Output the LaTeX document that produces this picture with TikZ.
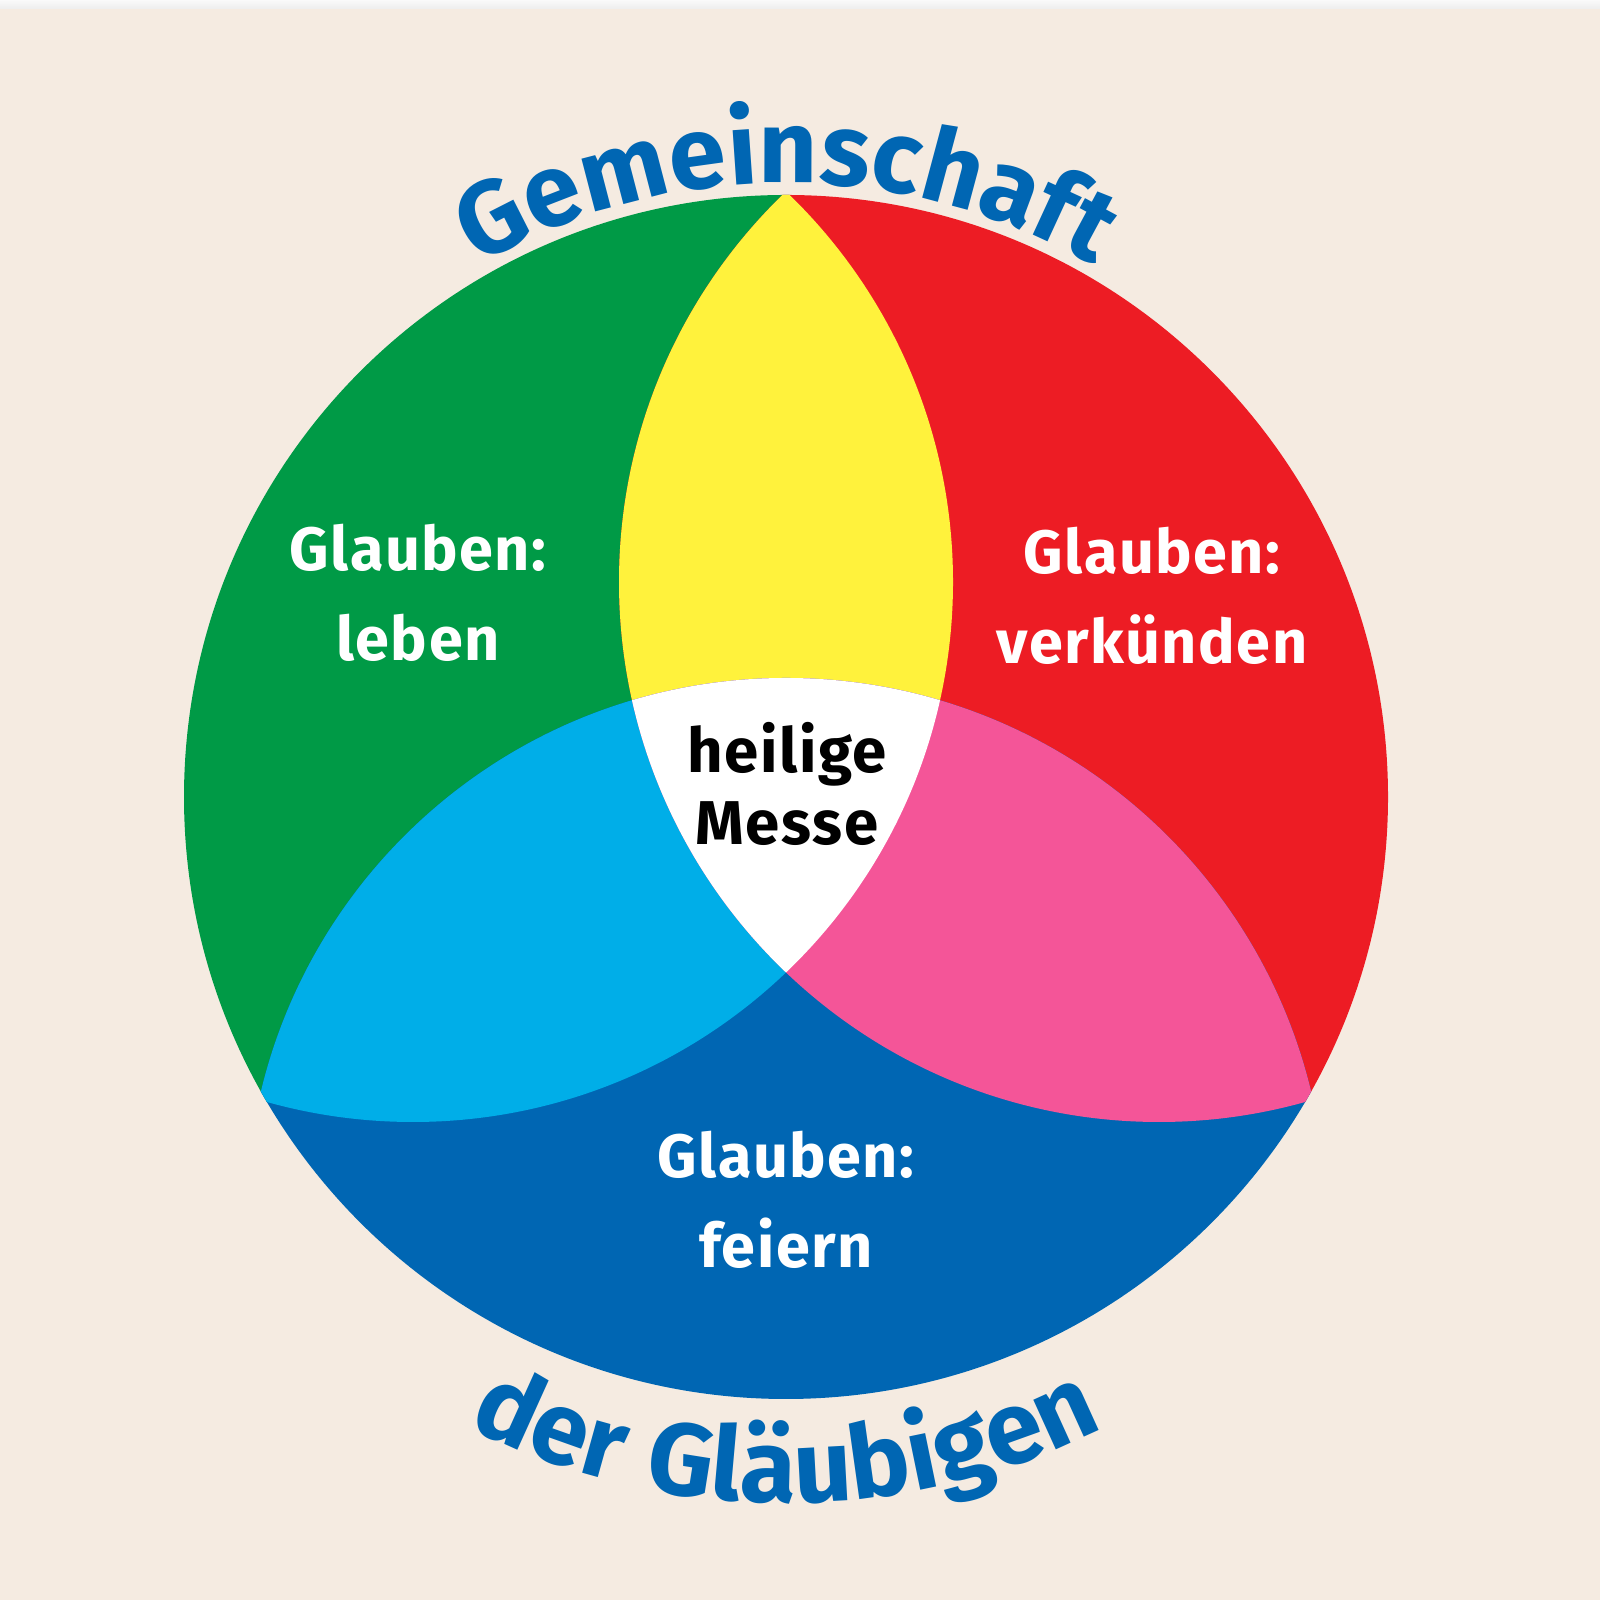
\documentclass[tikz,border=0pt]{standalone}
\usepackage{fontspec}
\setmainfont{Fira Sans}
\newfontfamily\labelfont[LetterSpace=2.5]{Fira Sans}
\newfontfamily\randfont[LetterSpace=3]{Fira Sans}
\usetikzlibrary{decorations.text}

\definecolor{bgbeige}{HTML}{F5EBE1}
\definecolor{glgreen}{HTML}{009A46}
\definecolor{glred}{HTML}{ED1C24}
\definecolor{glblue}{HTML}{0066B3}
\definecolor{glyellow}{HTML}{FFF23C}
\definecolor{glcyan}{HTML}{00AEE8}
\definecolor{glpink}{HTML}{F45598}

\newcommand{\SmallR}{5.4}
\newcommand{\TitleFont}{\randfont\bfseries\fontsize{29.2}{35}\selectfont}
\newcommand{\Overlap}[3]%
% clip circle, fill circle, colour
{ \begin{scope}
    \clip (#1) circle (\SmallR);
    \fill[#3] (#2) circle (\SmallR);
  \end{scope}
}

\begin{document}
\begin{tikzpicture}
[   label/.style={text=white, font=\labelfont\bfseries\fontsize{17.4}{25.5}\selectfont, align=center},
    centre/.style={label, text=black, font=\labelfont\bfseries\fontsize{17.6}{20.5}\selectfont},
    title/.style={decorate, decoration={text along path, text align=center,
        text color=glblue, text={|\TitleFont|#1}}}
]
    \useasboundingbox (0,0) rectangle (16,16);
    \fill[bgbeige] (0,0) rectangle (16,16);
    \shade[top color=gray!4, bottom color=gray!14] (0,15.91) rectangle (16,16);

    % Mittelpunkte
    \coordinate (O) at (7.86,8.03);
    \coordinate (G) at (4.13,10.18);
    \coordinate (R) at (11.59,10.18);
    \coordinate (B) at (7.86,3.82);

    % drei Kreise im grossen Kreis
    \begin{scope}
        \clip (O) circle (6.02);
        \fill[glgreen] (G) circle (\SmallR);
        \fill[glred] (R) circle (\SmallR);
        \fill[glblue] (B) circle (\SmallR);
        \Overlap{G}{R}{glyellow}
        \Overlap{G}{B}{glcyan}
        \Overlap{R}{B}{glpink}
        \begin{scope}
            \clip (G) circle (\SmallR);
            \Overlap{R}{B}{white}
        \end{scope}
    \end{scope}

    \node[label] (leben) at (4.18,10.07) {Glauben:\\leben};
    \node[label] (verkuenden) at (11.52,10.04) {Glauben:\\verkünden};
    \node[label] (feiern) at (7.86,4.00) {Glauben:\\feiern};
    \node[centre] (messe) at (7.87,8.16) {heilige\\Messe};

    % Schrift am Rand
    \path[title=Gemeinschaft] ([shift={(150:6.14)}]O)
        arc[start angle=150, end angle=30, radius=6.14];
    \path[title=der Gläubigen] ([shift={(215:7.06)}]O)
        arc[start angle=215, end angle=325, radius=7.06];
\end{tikzpicture}
\end{document}
